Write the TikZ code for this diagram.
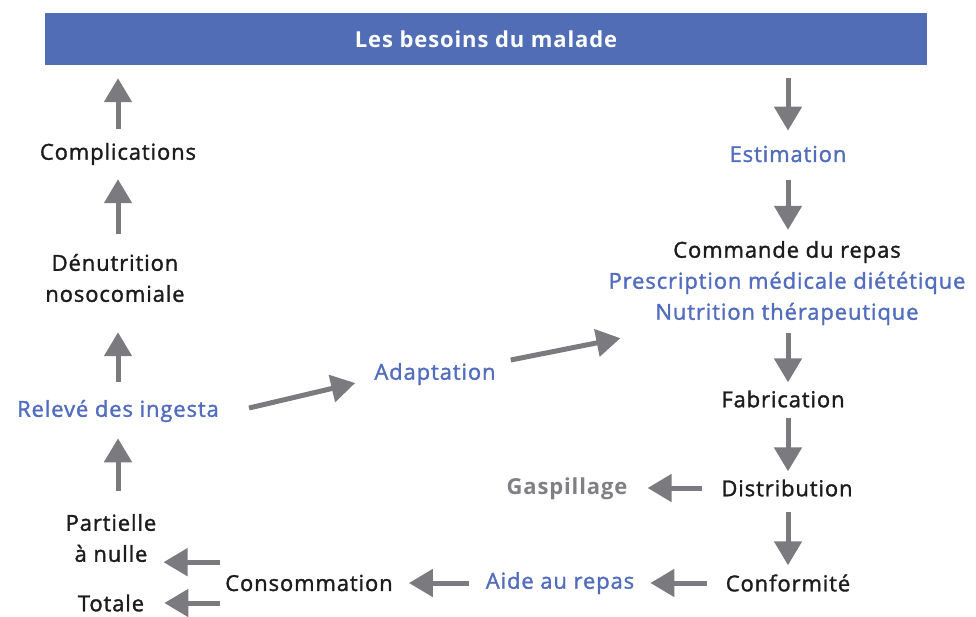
\documentclass[tikz,border=0pt]{standalone}
\usepackage{fontspec}
\setmainfont{Open Sans}[LetterSpace=4, UprightFeatures={FakeBold=1.5}]
\usetikzlibrary{arrows.meta}
\definecolor{titleblue}{RGB}{80,109,181}
\definecolor{txtblue}{RGB}{82,108,190}
\definecolor{arrgray}{RGB}{122,122,127}
\definecolor{txtblack}{RGB}{28,28,30}
\definecolor{txtgray}{RGB}{128,128,132}

\begin{document}
\begin{tikzpicture}[x=1pt, y=-1pt, >={Triangle[width=27pt,length=24pt]},
    arr/.style={->, arrgray, line width=5pt},
    lbl/.style={font=\fontsize{22}{31}\selectfont, text=txtblack, inner sep=0pt, align=center},
    lblue/.style={lbl, text=txtblue}]
    \useasboundingbox (0,0) rectangle (976,616);
    \node[fill=titleblue, minimum width=882pt, minimum height=52pt, inner sep=0pt, text=white,
          font=\fontsize{22}{26}\selectfont\bfseries] (title) at (486,39) {Les besoins du malade};
    % left column
    \node[lbl] (comp) at (118,154) {Complications};
    \node[lbl] (denut) at (115,278) {Dénutrition\\nosocomiale};
    \node[lblue] (relev) at (118,411) {Relevé des ingesta};
    \node[lbl] (partielle) at (111,538) {Partielle\\à nulle};
    \node[lbl] (totale) at (111,603) {Totale};
    \node[lblue] (adapt) at (435,374) {Adaptation};
    % right column
    \node[lbl] (estim) at (788,154) {\textcolor{txtblue}{Estimation}};
    \node[lbl] (cmd) at (787,283) {Commande du repas\\\textcolor{txtblue}{Prescription médicale diététique}\\\textcolor{txtblue}{Nutrition thérapeutique}};
    \node[lbl] (fabric) at (783,399) {Fabrication};
    \node[lbl] (distrib) at (787,488) {Distribution};
    \node[lbl, text=txtgray, font=\fontsize{22}{31}\selectfont\bfseries] (gasp) at (567,489) {Gaspillage};
    \node[lbl] (conform) at (788,583) {Conformité};
    \node[lblue] (aide) at (560,583) {Aide au repas};
    \node[lbl] (conso) at (309,583) {Consommation};
    % arrows
    \draw[arr, shorten <=14pt, shorten >=13pt] (comp.north) -- (comp.north |- title.south);
    \draw[arr, shorten <=20pt, shorten >=14pt] (denut.north -| comp.north) -- (comp.south);
    \draw[arr, shorten <=18pt, shorten >=30pt] (relev.north -| comp.north) -- (denut.south -| comp.north);
    \draw[arr, shorten <=23pt, shorten >=16pt] (partielle.north -| relev.south) -- (relev.south);
    \draw[arr, shorten <=5pt, shorten >=7pt] (conso.west |- partielle.south east) -- (partielle.south east);
    \draw[arr, shorten <=5pt, shorten >=20pt] (conso.west |- totale.east) -- (totale.east);
    \draw[arr, shorten <=17pt, shorten >=16pt] (aide.west) -- (conso.east);
    \draw[arr, shorten <=19pt, shorten >=16pt] (conform.west) -- (aide.east);
    \draw[arr, shorten <=19pt, shorten >=20pt] (distrib.west) -- (distrib.west -| gasp.east);
    \draw[arr] ([xshift=30pt, yshift=3pt]relev.east) -- ([xshift=-19pt, yshift=-9pt]adapt.west);
    \draw[arr] ([xshift=15pt, yshift=14pt]adapt.east) -- ([xshift=12pt, yshift=-13pt]cmd.south west);
    \draw[arr, shorten <=13pt, shorten >=15pt] (title.south -| estim.north) -- (estim.north);
    \draw[arr, shorten <=18pt, shorten >=11pt] (estim.south) -- (estim.south |- cmd.north);
    \draw[arr, shorten <=8pt, shorten >=8pt] (cmd.south -| estim.south) -- (estim.south |- fabric.north);
    \draw[arr, shorten <=10pt, shorten >=8pt] (fabric.south -| estim.south) -- (estim.south |- distrib.north);
    \draw[arr, shorten <=15pt, shorten >=9pt] (distrib.south -| estim.south) -- (estim.south |- conform.north);
\end{tikzpicture}
\end{document}
